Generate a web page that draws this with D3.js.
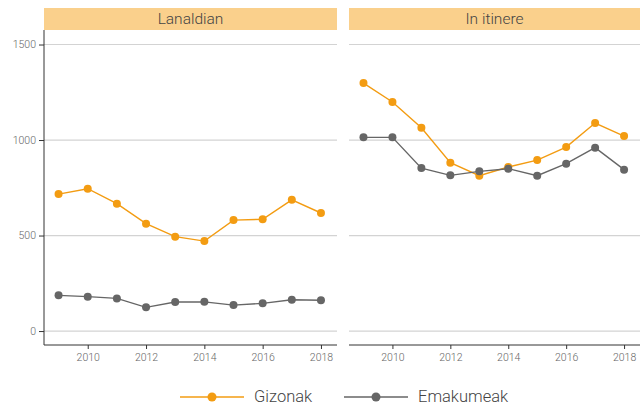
<!DOCTYPE html>
<html>
<head>
<meta charset="utf-8">
<script src="https://cdn.jsdelivr.net/npm/d3@7"></script>
<style>
  body { margin: 0; background: #fff; }
  text { font-family: "Roboto", "DejaVu Sans", sans-serif; }
</style>
</head>
<body>
<script>
const width = 640, height = 405;

// Data
const years = [2009, 2010, 2011, 2012, 2013, 2014, 2015, 2016, 2017, 2018];
const panels = ["Lanaldian", "In itinere"];
const seriesNames = ["Gizonak", "Emakumeak"];
const lanaldianGizonak = [717, 745, 667, 562, 494, 471, 581, 585, 687, 618];
const lanaldianEmakumeak = [187, 180, 171, 124, 152, 153, 136, 145, 164, 161];
const itinereGizonak = [1298, 1199, 1064, 881, 813, 859, 895, 963, 1089, 1021];
const itinereEmakumeak = [1014, 1014, 853, 815, 836, 850, 813, 876, 960, 845];
const yTicks = [0, 500, 1000, 1500];
const xTicks = [2010, 2012, 2014, 2016, 2018];

const colors = { Gizonak: "#f39c12", Emakumeak: "#666666" };
const panelData = [
    { name: panels[0], series: { Gizonak: lanaldianGizonak, Emakumeak: lanaldianEmakumeak } },
    { name: panels[1], series: { Gizonak: itinereGizonak, Emakumeak: itinereEmakumeak } }
];

const svg = d3.select("body").append("svg")
    .attr("width", width)
    .attr("height", height);

const panelX = [44, 349];
const panelW = [293, 291];
const stripTop = 8, stripH = 22;
const plotTop = 30, plotBottom = 345;

const y = d3.scaleLinear()
    .domain([-73, 1576])
    .range([plotBottom, plotTop]);

panelData.forEach(function (p, i) {
    const x0 = panelX[i], w = panelW[i];
    const x = d3.scaleLinear()
        .domain([2008.5, 2018.55])
        .range([x0, x0 + w]);

    // strip
    svg.append("rect")
        .attr("x", x0).attr("y", stripTop)
        .attr("width", w).attr("height", stripH)
        .attr("fill", "#fad08c");
    svg.append("text")
        .attr("x", x0 + w / 2).attr("y", stripTop + stripH / 2 + 5)
        .attr("text-anchor", "middle")
        .attr("font-size", 15.5)
        .attr("font-weight", 300)
        .attr("fill", "#444")
        .text(p.name);

    // grid
    svg.append("g").selectAll("line")
        .data(yTicks)
        .enter().append("line")
        .attr("x1", x0).attr("x2", x0 + w)
        .attr("y1", d => y(d)).attr("y2", d => y(d))
        .attr("stroke", "#d3d3d3")
        .attr("stroke-width", 1.2);

    // x axis
    const xAxis = svg.append("g")
        .attr("transform", "translate(0," + plotBottom + ")")
        .call(d3.axisBottom(x).tickValues(xTicks).tickFormat(d3.format("d")).tickSizeOuter(0).tickSize(4));
    xAxis.select(".domain").attr("stroke", "#333").attr("d", "M" + x0 + ",0H" + (x0 + w));
    xAxis.selectAll(".tick line").attr("stroke", "#333");
    xAxis.selectAll(".tick text").attr("fill", "#666").attr("font-size", 10.5).attr("dy", "0.9em")
        .attr("font-weight", 300)
        .style("font-family", "Roboto, sans-serif");

    if (i === 0) {
        const yAxis = svg.append("g")
            .attr("transform", "translate(" + x0 + ",0)")
            .call(d3.axisLeft(y).tickValues(yTicks).tickFormat(d3.format("d")).tickSizeOuter(0).tickSize(5));
        yAxis.select(".domain").attr("stroke", "#333").attr("d", "M0," + plotTop + "V" + plotBottom);
        yAxis.selectAll(".tick line").attr("stroke", "#333");
        yAxis.selectAll(".tick text").attr("fill", "#666").attr("font-size", 10.5)
            .attr("font-weight", 300)
            .style("font-family", "Roboto, sans-serif");
    }

    seriesNames.forEach(function (s) {
        const vals = p.series[s];
        const line = d3.line()
            .x((d, j) => x(years[j]))
            .y(d => y(d));
        svg.append("path")
            .datum(vals)
            .attr("d", line)
            .attr("fill", "none")
            .attr("stroke", colors[s])
            .attr("stroke-width", 1.4);
        svg.append("g").selectAll("circle")
            .data(vals)
            .enter().append("circle")
            .attr("cx", (d, j) => x(years[j]))
            .attr("cy", d => y(d))
            .attr("r", 4)
            .attr("fill", colors[s]);
    });
});

// Legend
const legendItems = [
    { name: seriesNames[0], x: 180 },
    { name: seriesNames[1], x: 344 }
];
const legendY = 397;
const lg = svg.append("g").attr("class", "legend");
legendItems.forEach(function (d) {
    lg.append("line")
        .attr("x1", d.x).attr("x2", d.x + 64)
        .attr("y1", legendY).attr("y2", legendY)
        .attr("stroke", colors[d.name])
        .attr("stroke-width", 1.4);
    lg.append("circle")
        .attr("cx", d.x + 32).attr("cy", legendY)
        .attr("r", 4.5)
        .attr("fill", colors[d.name]);
    lg.append("text")
        .attr("x", d.x + 74).attr("y", legendY + 5)
        .attr("font-size", 16.5)
        .attr("font-weight", 300)
        .attr("fill", "#444")
        .text(d.name);
});
</script>
</body>
</html>
